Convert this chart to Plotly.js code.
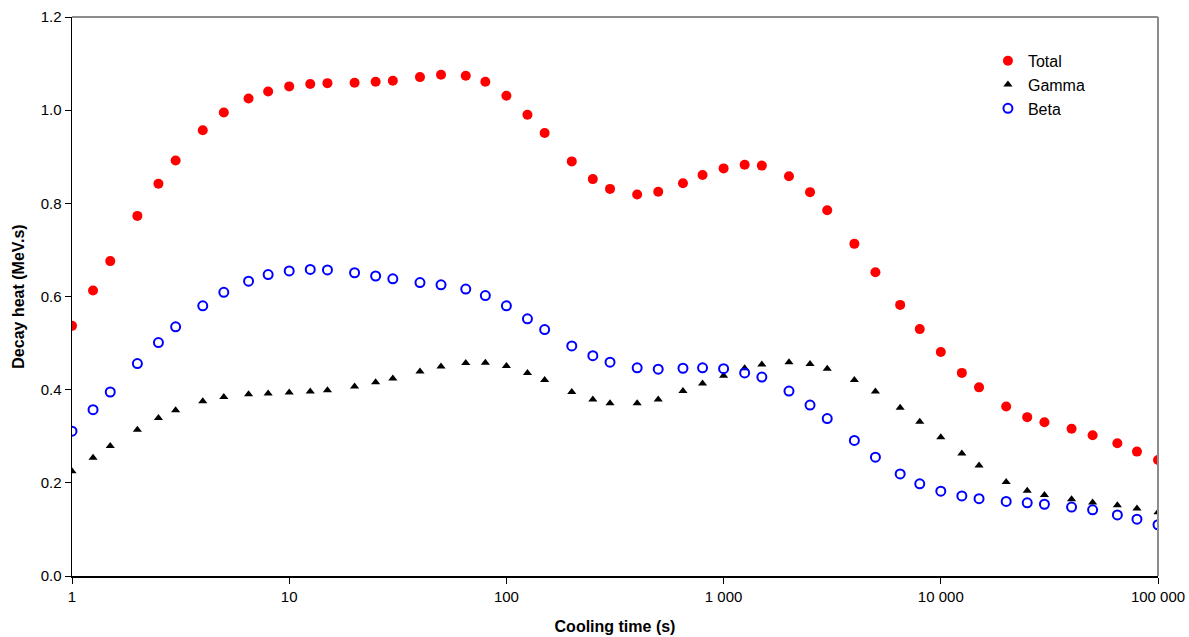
<!DOCTYPE html>
<html>
<head>
<meta charset="utf-8">
<script src="https://cdn.plot.ly/plotly-3.0.1.min.js"></script>
<style>
  html, body { margin: 0; padding: 0; background: #fff; }
  #chart { width: 1189px; height: 637px; }
</style>
</head>
<body>
<div id="chart"></div>
<script>
const times = [1,1.25,1.5,2,2.5,3,4,5,6.5,8,
  10,12.5,15,20,25,30,40,50,65,80,
  100,125,150,200,250,300,400,500,650,800,
  1000,1250,1500,2000,2500,3000,4000,5000,6500,8000,
  10000,12500,15000,20000,25000,30000,40000,50000,65000,80000,
  100000];

const total = [0.537,0.613,0.676,0.773,0.842,0.892,0.957,0.995,1.025,1.040,
  1.051,1.056,1.058,1.059,1.061,1.063,1.071,1.076,1.074,1.061,
  1.031,0.990,0.951,0.890,0.852,0.831,0.819,0.825,0.843,0.861,
  0.875,0.883,0.881,0.858,0.824,0.785,0.713,0.652,0.582,0.530,
  0.481,0.436,0.405,0.364,0.341,0.330,0.316,0.302,0.285,0.267,
  0.249];

const gamma = [0.225,0.254,0.279,0.314,0.339,0.356,0.375,0.384,0.390,0.392,
  0.394,0.396,0.399,0.407,0.416,0.424,0.439,0.450,0.457,0.458,
  0.451,0.436,0.421,0.395,0.379,0.371,0.371,0.379,0.397,0.413,
  0.430,0.446,0.454,0.459,0.455,0.445,0.421,0.396,0.361,0.331,
  0.298,0.263,0.237,0.202,0.183,0.174,0.165,0.158,0.152,0.145,
  0.137];

const beta = [0.311,0.357,0.395,0.456,0.501,0.535,0.580,0.609,0.633,0.647,
  0.655,0.658,0.657,0.651,0.644,0.638,0.630,0.625,0.616,0.602,
  0.580,0.552,0.529,0.494,0.473,0.459,0.447,0.444,0.446,0.447,
  0.445,0.436,0.427,0.397,0.367,0.338,0.291,0.255,0.219,0.198,
  0.182,0.172,0.166,0.160,0.157,0.154,0.148,0.142,0.131,0.122,
  0.110];

const xTickVals = [1, 10, 100, 1000, 10000, 100000];
const xTickText = ['1', '10', '100', '1 000', '10 000', '100 000'];
const yTickVals = [0, 0.2, 0.4, 0.6, 0.8, 1.0, 1.2];

const font = 'Arial, "Liberation Sans", sans-serif';

const traces = [
  { x: times, y: total, name: 'Total', type: 'scatter', mode: 'markers',
    marker: { symbol: 'circle', size: 10, color: '#ff0000' } },
  { x: times, y: gamma, name: 'Gamma', type: 'scatter', mode: 'markers',
    marker: { symbol: 'triangle-up', size: 8, color: '#000000' } },
  { x: times, y: beta, name: 'Beta', type: 'scatter', mode: 'markers',
    marker: { symbol: 'circle-open', size: 9, color: '#0000ff', line: { width: 2, color: '#0000ff' } } }
];

const layout = {
  width: 1189, height: 637,
  margin: { l: 72, r: 31, t: 17, b: 61 },
  paper_bgcolor: '#fff', plot_bgcolor: '#fff',
  font: { family: font, color: '#000', size: 15 },
  showlegend: true,
  legend: {
    x: 0.8434, y: 0.952, xanchor: 'left', yanchor: 'top',
    font: { family: font, size: 16, color: '#000' },
    bgcolor: 'rgba(0,0,0,0)', borderwidth: 0,
    tracegroupgap: 0
  },
  xaxis: {
    type: 'log', range: [0, 5],
    tickvals: xTickVals, ticktext: xTickText,
    ticks: 'outside', ticklen: 6, tickwidth: 1, tickcolor: '#000',
    showline: true, linecolor: '#000', linewidth: 1.5,
    showgrid: false, zeroline: false,
    tickfont: { family: font, size: 15, color: '#000' },
    title: { text: '<b>Cooling time (s)</b>', font: { family: font, size: 16, color: '#000' }, standoff: 17 }
  },
  yaxis: {
    range: [0, 1.2],
    tickvals: yTickVals, tickformat: '.1f',
    ticks: 'outside', ticklen: 6, tickwidth: 1, tickcolor: '#000',
    showline: true, linecolor: '#000', linewidth: 1.5,
    showgrid: false, zeroline: false,
    tickfont: { family: font, size: 15, color: '#000' },
    title: { text: '<b>Decay heat (MeV.s)</b>', font: { family: font, size: 16, color: '#000' }, standoff: 12 }
  },
  shapes: [
    { type: 'line', xref: 'paper', yref: 'paper', x0: 0, x1: 1, y0: 1, y1: 1,
      line: { color: '#8c8c8c', width: 2 } },
    { type: 'line', xref: 'paper', yref: 'paper', x0: 1, x1: 1, y0: 0, y1: 1,
      line: { color: '#8c8c8c', width: 2 } }
  ]
};

Plotly.newPlot('chart', traces, layout, { displayModeBar: false, staticPlot: true });
</script>
</body>
</html>
